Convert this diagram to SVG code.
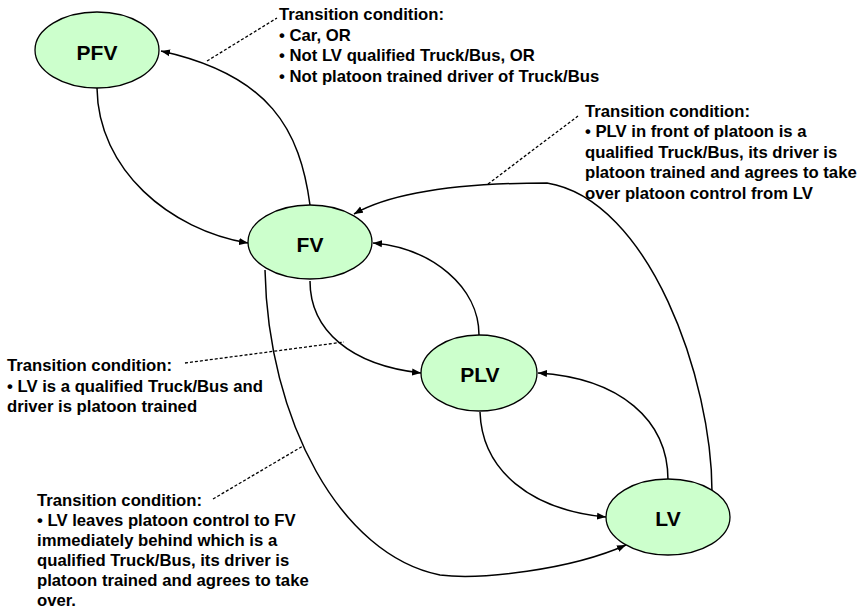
<svg xmlns="http://www.w3.org/2000/svg" width="865" height="612" viewBox="0 0 865 612">
<style>
.node ellipse{fill:#ccffcc;stroke:#000;stroke-width:1.3}
.node text{font-family:"Liberation Sans",Arial,sans-serif;font-weight:bold;font-size:21px;text-anchor:middle;fill:#000}
.edge{fill:none;stroke:#000;stroke-width:1.5;marker-end:url(#arr)}
.lead{fill:none;stroke:#000;stroke-width:1.3;stroke-dasharray:3,2}
.note{font-family:"Liberation Sans",Arial,sans-serif;font-weight:bold;font-size:16.7px;fill:#000}
</style>
<defs>
<marker id="arr" markerWidth="10" markerHeight="8" refX="9" refY="4" orient="auto" markerUnits="userSpaceOnUse">
<path d="M0,0.5 L9,4 L0,7.5 z" fill="#000"/>
</marker>
</defs>
<rect width="865" height="612" fill="#fff"/>
<g id="connectors">
<path class="edge" d="M97,88 C98,170 170,230 248,243"/>
<path class="edge" d="M310,205 C300,130 270,75 161,51"/>
<path class="edge" d="M310,281 C310,330 350,365 421,373"/>
<path class="edge" d="M479,335 C479,287 432,248 373,243"/>
<path class="edge" d="M480,412 C482,470 530,510 606,517"/>
<path class="edge" d="M668,480 C668,420 620,378 538,373"/>
<path class="edge" d="M712,492 C712,380 650,200 547,183 C480,183 400,188 354,214"/>
<path class="edge" d="M265,270 C268,420 340,555 440,575 C480,580 570,570 626,545"/>
<path class="lead" d="M207,61 L277,18"/>
<path class="lead" d="M488,184 L578,116"/>
<path class="lead" d="M185,363 L344,342"/>
<path class="lead" d="M213,499 L303,446"/>
</g>
<g id="PFV" class="node"><ellipse cx="97" cy="50" rx="62" ry="38"/><text x="97" y="60">PFV</text></g>
<g id="FV" class="node"><ellipse cx="310" cy="242" rx="62" ry="37"/><text x="310" y="252">FV</text></g>
<g id="PLV" class="node"><ellipse cx="479" cy="373" rx="58" ry="38"/><text x="480" y="382">PLV</text></g>
<g id="LV" class="node"><ellipse cx="668" cy="517" rx="62" ry="38"/><text x="668" y="526">LV</text></g>
<g id="note1" class="note">
<text x="279" y="20">Transition condition:</text>
<text x="279" y="40.5">• Car, OR</text>
<text x="279" y="61">• Not LV qualified Truck/Bus, OR</text>
<text x="279" y="81.5">• Not platoon trained driver of Truck/Bus</text>
</g>
<g id="note2" class="note">
<text x="585" y="116.5">Transition condition:</text>
<text x="585" y="137">• PLV in front of platoon is a</text>
<text x="585" y="157.5">qualified Truck/Bus, its driver is</text>
<text x="585" y="178">platoon trained and agrees to take</text>
<text x="585" y="198.5">over platoon control from LV</text>
</g>
<g id="note3" class="note">
<text x="7" y="371">Transition condition:</text>
<text x="7" y="391.5">• LV is a qualified Truck/Bus and</text>
<text x="7" y="412">driver is platoon trained</text>
</g>
<g id="note4" class="note">
<text x="37" y="505.5">Transition condition:</text>
<text x="37" y="525.5">• LV leaves platoon control to FV</text>
<text x="37" y="545.5">immediately behind which is a</text>
<text x="37" y="565.5">qualified Truck/Bus, its driver is</text>
<text x="37" y="585.5">platoon trained and agrees to take</text>
<text x="37" y="605.5">over.</text>
</g>
</svg>
